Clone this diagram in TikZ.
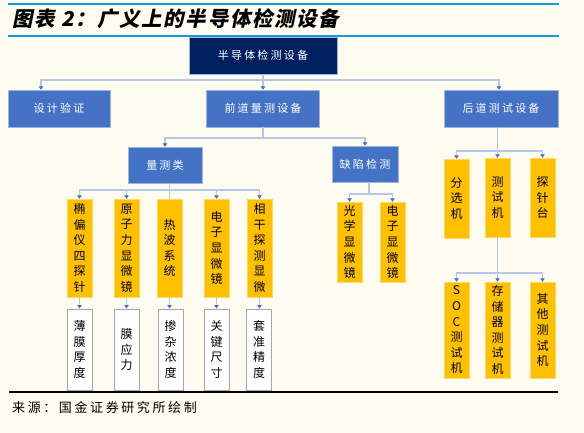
\documentclass[tikz,border=0pt]{standalone}
\usepackage{fontspec}
\usetikzlibrary{arrows.meta}
\setmainfont{Noto Sans CJK SC}
\newfontfamily\cjk{Noto Sans CJK SC}
\newfontfamily\cjkwide[LetterSpace=20]{Noto Sans CJK SC}
\newfontfamily\titlefont[LetterSpace=8, BoldFeatures={FakeSlant=0.2}]{Noto Sans CJK SC}
\newfontfamily\srcfont[LetterSpace=20]{Noto Sans CJK SC}
\definecolor{pagebg}{HTML}{FEFBF0}
\definecolor{rulecyan}{HTML}{0AA0DC}
\definecolor{rootnavy}{HTML}{002060}
\definecolor{boxblue}{HTML}{4472C4}
\definecolor{boxblueline}{HTML}{9DB5E0}
\definecolor{boxgold}{HTML}{FFC000}
\definecolor{boxgoldline}{HTML}{FFD966}
\definecolor{wireline}{HTML}{B4C7E7}
\definecolor{tipblue}{HTML}{4472C4}
\definecolor{noteline}{HTML}{A6A6A6}
\tikzset{
  rootbox/.style={draw=boxblueline, fill=rootnavy, text=white,
                  font=\cjkwide\fontsize{11}{13}\selectfont,
                  minimum width=148pt, minimum height=37pt, inner sep=0pt},
  bluebox/.style={rootbox, fill=boxblue},
  goldbox/.style={draw=boxgoldline, fill=boxgold, text=black,
                  font=\cjk\fontsize{12}{15.6}\selectfont, align=center,
                  minimum width=25pt, inner sep=0pt},
  notebox/.style={goldbox, draw=noteline, fill=white, line width=1pt},
  wire/.style={draw=wireline, line width=1.1pt},
  feed/.style={wire, -{Triangle[width=4.5pt,length=3.5pt,color=tipblue]}},
}

\begin{document}
\begin{tikzpicture}[x=1pt, y=-1pt]
    \fill[pagebg] (0,0) rectangle (584,433);
    \useasboundingbox (0,0) rectangle (584,433);
    % heading
    \draw[rulecyan, line width=2pt] (8,4) -- (559,4);
    \draw[rulecyan, line width=2pt] (8,36) -- (559,36);
    \node[anchor=west, inner sep=0pt, font=\titlefont\bfseries\fontsize{20.5}{24}\selectfont] (title) at (12,18.5) {图表 2：广义上的半导体检测设备};
    % top levels
    \node[rootbox] (root) at (263,55.5) {半导体检测设备};
    \node[bluebox, minimum width=102pt] (design) at (59,108.5) {设计验证};
    \node[bluebox, minimum width=113pt] (front) at (263,108.5) {前道量测设备};
    \node[bluebox, minimum width=114pt] (back) at (501,108.5) {后道测试设备};
    \coordinate (hub0) at (263,80);
    \draw[wire] (root.south) -- (hub0);
    \draw[feed] (hub0) -| ([xshift=-18pt]design.north);
    \draw[feed] (hub0) -| ([xshift=-2pt]back.north);
    \draw[feed] (hub0) -- (front.north);
    % front-end
    \node[bluebox, minimum width=74pt, minimum height=36pt] (metro) at (165,165) {量测类};
    \node[bluebox, minimum width=66pt, minimum height=36pt] (defect) at (365,164) {缺陷检测};
    \coordinate (hub1) at (263,138);
    \draw[wire] (front.south) -- (hub1);
    \draw[feed] (hub1) -| (metro.north);
    \draw[feed] (hub1) -| (defect.north);
    % metrology
    \node[goldbox, minimum height=98pt] (ellip) at (79.5,248) {椭\\偏\\仪\\四\\探\\针};
    \node[goldbox, minimum height=98pt] (afm) at (126.5,248) {原\\子\\力\\显\\微\\镜};
    \node[goldbox, minimum height=98pt] (wave) at (169.5,248) {热\\波\\系\\统};
    \node[goldbox, minimum height=98pt] (sem) at (216.5,248) {电\\子\\显\\微\\镜};
    \node[goldbox, minimum height=98pt] (coh) at (259.5,248) {相\\干\\探\\测\\显\\微};
    \coordinate (hub2) at (169.5,190);
    \draw[wire] (wave.north |- metro.south) -- (wave.north);
    \draw[feed] (hub2) -| (ellip.north);
    \draw[feed] (hub2) -| (afm.north);
    \draw[feed] (hub2) -| (sem.north);
    \draw[feed] (hub2) -| (coh.north);
    \node[notebox, minimum height=81pt] (ellipnote) at (79.5,349.5) {薄\\膜\\厚\\度};
    \node[notebox, minimum height=81pt] (afmnote) at (126.5,349.5) {膜\\应\\力};
    \node[notebox, minimum height=81pt] (wavenote) at (170.5,349.5) {掺\\杂\\浓\\度};
    \node[notebox, minimum height=81pt] (semnote) at (216.5,349.5) {关\\键\\尺\\寸};
    \node[notebox, minimum height=81pt] (cohnote) at (259,349.5) {套\\准\\精\\度};
    \draw[feed] (ellip.south) -- (ellipnote.north);
    \draw[feed] (afm.south) -- (afmnote.north);
    \draw[feed] (wave.south) -- (wave.south |- wavenote.north);
    \draw[feed] (sem.south) -- (semnote.north);
    \draw[feed] (coh.south) -- (coh.south |- cohnote.north);
    % defect inspection
    \node[goldbox, minimum height=80pt] (optic) at (349.5,242) {光\\学\\显\\微\\镜};
    \node[goldbox, minimum height=80pt] (esem) at (392.5,242) {电\\子\\显\\微\\镜};
    \coordinate (hub3) at (369,194);
    \draw[wire] (hub3 |- defect.south) -- (hub3);
    \draw[feed] (hub3) -| (optic.north);
    \draw[feed] (hub3) -| (esem.north);
    % back-end
    \node[goldbox, minimum height=79pt] (sorter) at (456.5,198.5) {分\\选\\机};
    \node[goldbox, minimum height=79pt] (tester) at (497.5,197.5) {测\\试\\机};
    \node[goldbox, minimum height=79pt] (prober) at (542.5,197.5) {探\\针\\台};
    \coordinate (hub4) at (497.5,151);
    \draw[wire] (hub4 |- back.south) -- (hub4);
    \draw[feed] (hub4) -| (sorter.north);
    \draw[feed] (hub4) -- (tester.north);
    \draw[feed] (hub4) -| (prober.north);
    \node[goldbox, minimum height=96pt] (soc) at (456.5,330) {S\\O\\C\\测\\试\\机};
    \node[goldbox, minimum height=96pt] (memory) at (497.5,330) {存\\储\\器\\测\\试\\机};
    \node[goldbox, minimum height=96pt] (other) at (542.5,330) {其\\他\\测\\试\\机};
    \coordinate (hub5) at (497.5,273);
    \draw[wire] (tester.south) -- (hub5);
    \draw[feed] (hub5) -| (soc.north);
    \draw[feed] (hub5) -- (memory.north);
    \draw[feed] (hub5) -| (other.north);
    % footer
    \draw[black, line width=2.5pt] (9,392) -- (558,392);
    \node[anchor=west, inner sep=0pt, font=\srcfont\fontsize{13}{15}\selectfont] (source) at (12,407.5) {来源：国金证券研究所绘制};
\end{tikzpicture}
\end{document}
